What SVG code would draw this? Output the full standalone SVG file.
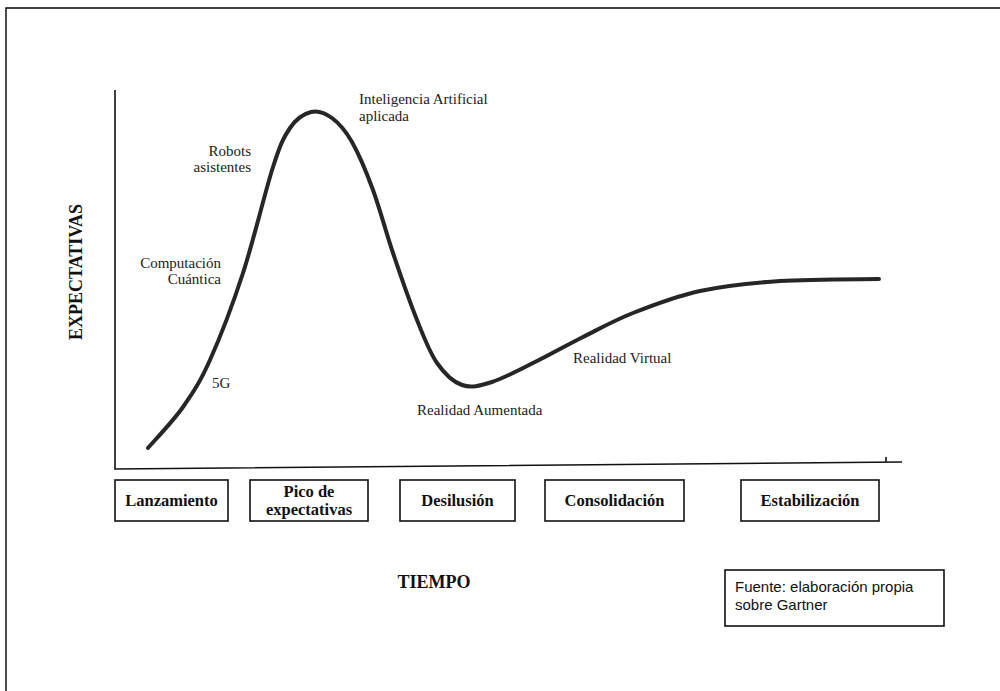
<svg xmlns="http://www.w3.org/2000/svg" width="1000" height="691" viewBox="0 0 1000 691">
<style>
.frame{fill:none;stroke:#000;stroke-width:1.4}
.axis{fill:none;stroke:#111;stroke-width:1.6}
.curve{fill:none;stroke:#262626;stroke-width:4;stroke-linecap:round;stroke-linejoin:round}
.box{fill:#fff;stroke:#111;stroke-width:1.6}
.lbl{font-family:"Liberation Serif","Times New Roman",serif;font-size:15px;fill:#222}
.phase{font-family:"Liberation Serif","Times New Roman",serif;font-size:16.5px;font-weight:bold;fill:#111;text-anchor:middle}
.title{font-family:"Liberation Serif","Times New Roman",serif;font-size:18px;font-weight:bold;fill:#111;text-anchor:middle}
.src{font-family:"Liberation Sans",Arial,sans-serif;font-size:15px;fill:#111}
</style>
<rect width="1000" height="691" fill="#fff"/>
<path class="frame" d="M6,691 V8 H1000"/>
<g id="chart">
<path class="axis" d="M115,90 V469 L902,462"/>
<path class="axis" d="M886,462 V457"/>
<path class="curve" d="M148,448 C153.8,441.2 172.7,421.7 183,407 C193.3,392.3 200,382.3 210,360 C220,337.7 232.5,305.2 243,273 C253.5,240.8 265.2,191.2 273,167 C280.8,142.8 283.7,137.2 290,128 C296.3,118.8 304,113.7 311,112 C318,110.3 325.2,113 332,118 C338.8,123 345.2,130 352,142 C358.8,154 366.2,171.5 373,190 C379.8,208.5 385.7,231.3 393,253 C400.3,274.7 409.7,301.7 417,320 C424.3,338.3 429.5,352.2 437,363 C444.5,373.8 452.8,381.8 462,385 C471.2,388.2 479.5,386 492,382 C504.5,378 521.8,368.5 537,361 C552.2,353.5 567,345 583,337 C599,329 613.5,320.7 633,313 C652.5,305.3 675.5,296.3 700,291 C724.5,285.7 750.2,283 780,281 C809.8,279 862.5,279.3 879,279"/>
</g>
<g id="label-ia"><text class="lbl" x="359" y="104">Inteligencia Artificial</text><text class="lbl" x="359" y="121">aplicada</text></g>
<g id="label-robots"><text class="lbl" x="251" y="156" text-anchor="end">Robots</text><text class="lbl" x="251" y="172" text-anchor="end">asistentes</text></g>
<g id="label-cuantica"><text class="lbl" x="221" y="268" text-anchor="end">Computación</text><text class="lbl" x="221" y="284" text-anchor="end">Cuántica</text></g>
<g id="label-5g"><text class="lbl" x="212" y="388">5G</text></g>
<g id="label-ra"><text class="lbl" x="417" y="415">Realidad Aumentada</text></g>
<g id="label-rv"><text class="lbl" x="573" y="363">Realidad Virtual</text></g>
<g id="axis-y-title"><text class="title" transform="translate(82,272) rotate(-90)">EXPECTATIVAS</text></g>
<g id="axis-x-title"><text class="title" x="434" y="588">TIEMPO</text></g>
<g id="phase-lanzamiento"><rect class="box" x="115" y="480" width="113" height="41"/><text class="phase" x="171.5" y="506">Lanzamiento</text></g>
<g id="phase-pico"><rect class="box" x="250" y="480" width="118" height="41"/><text class="phase" x="309" y="497">Pico de</text><text class="phase" x="309" y="515">expectativas</text></g>
<g id="phase-desilusion"><rect class="box" x="400" y="480" width="115" height="41"/><text class="phase" x="457.5" y="506">Desilusión</text></g>
<g id="phase-consolidacion"><rect class="box" x="545" y="480" width="139" height="41"/><text class="phase" x="614.5" y="506">Consolidación</text></g>
<g id="phase-estabilizacion"><rect class="box" x="741" y="480" width="138" height="41"/><text class="phase" x="810" y="506">Estabilización</text></g>
<g id="source"><rect class="box" x="725" y="570" width="219" height="56" stroke-width="1.3"/><text class="src" x="735" y="592">Fuente: elaboración propia</text><text class="src" x="735" y="610">sobre Gartner</text></g>
</svg>
